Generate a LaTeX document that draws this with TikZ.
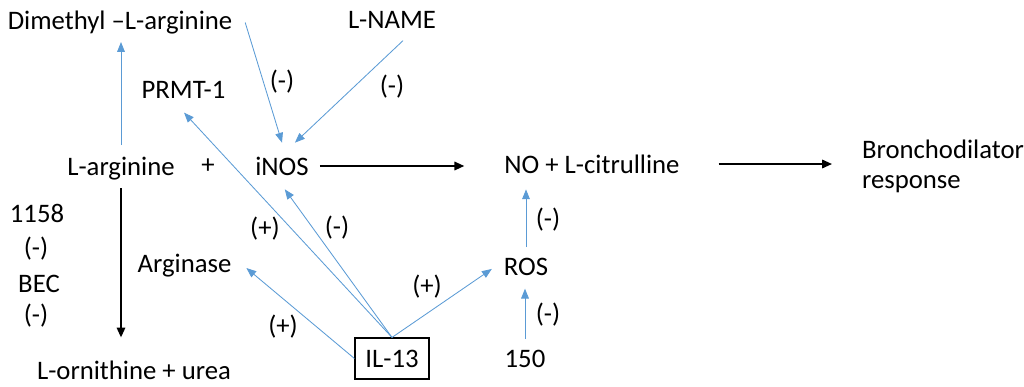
\documentclass[tikz,border=0pt]{standalone}
\usepackage{fontspec}
\setmainfont{Carlito}
\usepackage{xcolor}
\usepackage{tikz}
\usetikzlibrary{arrows.meta, positioning}
\definecolor{linkblue}{RGB}{91,155,213}
\tikzset{
    txt/.style={inner sep=2pt, font=\fontsize{19}{21.3}\selectfont},
    sign/.style={txt},
    flow/.style={draw=black, line width=1.3pt, -{Triangle[length=7pt, width=6pt]}},
    effect/.style={draw=linkblue, line width=0.6pt, -{Triangle[length=7pt, width=5.5pt]}},
    cytobox/.style={txt, draw=black, line width=0.8pt, minimum width=1.85cm, minimum height=1.025cm}
}

\begin{document}
\begin{tikzpicture}[x=0.025cm, y=-0.025cm]
    \useasboundingbox (0,0) rectangle (1024,387);
    % species and enzymes
    \node[txt] (dimethyl) at (120,22.5) {Dimethyl –L-arginine};
    \node[txt] (lname) at (392,20) {L-NAME};
    \node[txt] (prmt) at (183.5,90) {PRMT-1};
    \node[txt] (arginine) at (121,168.5) {L-arginine};
    \node[txt] (plus) at (208,166) {+};
    \node[txt] (inos) at (282,166) {iNOS};
    \node[txt] (no) at (592,164) {NO + L-citrulline};
    \node[txt, align=left, anchor=west] (broncho) at (859,166.5) {Bronchodilator\\response};
    \node[txt] (arginase) at (184.5,265.5) {Arginase};
    \node[txt] (ros) at (526,267) {ROS};
    \node[cytobox] (il13) at (392,358.5) {IL-13};
    \node[txt] (d150) at (525,359) {150};
    \node[txt] (ornithine) at (134,370) {L-ornithine + urea};
    \node[txt] (d1158) at (37,213) {1158};
    \node[txt] (bec) at (39,284) {BEC};
    % signs
    \node[sign] (s1158) at (36,249) {(-)};
    \node[sign] (sbec) at (36,316) {(-)};
    \node[sign] (sdimethyl) at (282,82) {(-)};
    \node[sign] (slname) at (392,87) {(-)};
    \node[sign] (sprmt) at (265,229) {(+)};
    \node[sign] (sinos) at (337,228) {(-)};
    \node[sign] (sarginase) at (283,327) {(+)};
    \node[sign] (sros) at (427,287) {(+)};
    \node[sign] (sno) at (548,220) {(-)};
    \node[sign] (s150) at (548,315) {(-)};
    % main pathway
    \draw[flow, shorten <=5.7pt, shorten >=26.3pt] (inos.east) -- (inos.east -| no.west);
    \draw[flow, shorten <=25.6pt, shorten >=19.2pt] (no.east) -- (no.east -| broncho.west);
    \draw[flow, shorten <=3.5pt, shorten >=14.3pt] (arginine.south) -- (arginine.south |- ornithine.north);
    % regulation
    \draw[effect, shorten <=6.3pt, shorten >=3.5pt] (arginine.north) -- (arginine.north |- dimethyl.south);
    \draw[effect] ([xshift=7pt]dimethyl.east) -- ([yshift=7.8pt]inos.north);
    \draw[effect] ([xshift=7.8pt, yshift=-6.4pt]lname.south) -- ([xshift=9.2pt, yshift=7.8pt]inos.north);
    \draw[effect] (il13.north) -- ([xshift=0.4pt, yshift=-7.8pt]prmt.south);
    \draw[effect] (il13.north) -- ([xshift=2pt, yshift=-7.8pt]inos.south);
    \draw[effect] (il13.north) -- ([xshift=-6.4pt, yshift=-1.4pt]ros.west);
    \draw[effect] (il13.west) -- ([xshift=8.5pt, yshift=-1.8pt]arginase.east);
    \draw[effect, shorten <=5.7pt, shorten >=9.2pt] (ros.north) -- (ros.north |- no.south);
    \draw[effect, shorten <=5.7pt, shorten >=7pt] (d150.north) -- (d150.north |- ros.south);
\end{tikzpicture}
\end{document}
